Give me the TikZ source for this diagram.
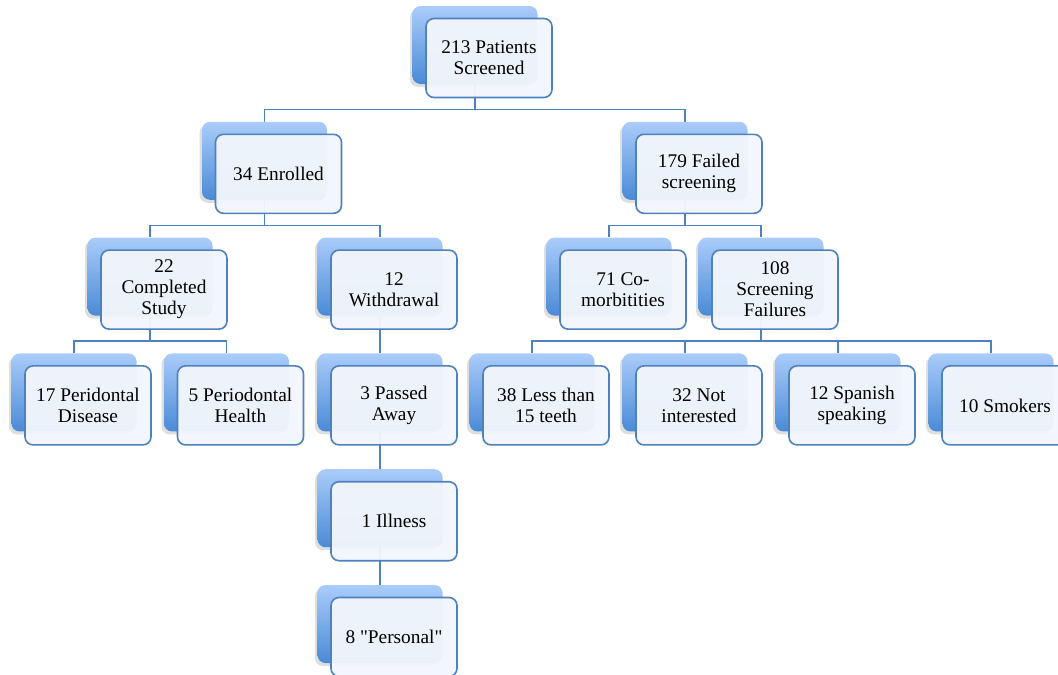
\documentclass[tikz,border=0pt]{standalone}
\usepackage{fontspec}
\setmainfont{Liberation Serif}[Ligatures=TeXOff]
\usetikzlibrary{positioning,calc}
\pgfdeclarelayer{bg}
\pgfsetlayers{bg,main}
\definecolor{linkblue}{RGB}{79,129,189}
\definecolor{tabtop}{RGB}{170,204,250}
\definecolor{tabbot}{RGB}{74,138,214}
\definecolor{cardfill}{RGB}{242,246,252}
\tikzset{
  tab/.style = {rounded corners=6pt, minimum width=93.75pt, minimum height=58.5pt,
                top color=tabtop, bottom color=tabbot, inner sep=0pt},
  tabshadow/.style = {rounded corners=6pt, minimum width=93.75pt, minimum height=58.5pt,
                fill=black, opacity=.13, inner sep=0pt},
  card/.style = {rounded corners=6pt, minimum width=94.5pt, minimum height=59.25pt,
                 draw=linkblue, line width=1.2pt, fill=cardfill, fill opacity=.96,
                 text opacity=1, align=center, inner sep=0pt,
                 font=\fontsize{14.5}{15.75}\selectfont},
  link/.style = {draw=linkblue, line width=1.2pt}
}
% back tab + front card; #1 name, #2 x, #3 y, #4 text
\newcommand{\flowbox}[4]{%
  \node[tabshadow] at (#2-2.5,#3+3) {};
  \node[tab] (#1) at (#2,#3) {};
  \node[card] (#1t) at (#2+14,#3+13) {#4};
}

\begin{document}
\begin{tikzpicture}[x = .75pt, y = -.75pt]
\useasboundingbox (0,0) rectangle (1058,675);
% level 0 and 1
\flowbox{scr}{475}{45}{213 Patients\\Screened}
\flowbox{enr}{264.5}{160.8}{34 Enrolled}
\flowbox{fail}{685}{160.8}{179 Failed\\screening}
% level 2
\flowbox{comp}{150}{276.6}{22\\Completed\\Study}
\flowbox{wdr}{380}{276.6}{12\\Withdrawal}
\flowbox{como}{609}{276.6}{71 Co-\\morbitities}
\flowbox{sfail}{761}{276.6}{108\\Screening\\Failures}
% level 3
\flowbox{pdis}{74}{392.4}{17 Peridontal\\Disease}
\flowbox{phea}{226.5}{392.4}{5 Periodontal\\Health}
\flowbox{pass}{380}{392.4}{3 Passed\\Away}
\flowbox{less}{532}{392.4}{38 Less than\\15 teeth}
\flowbox{noint}{685}{392.4}{32 Not\\interested}
\flowbox{span}{838}{392.4}{12 Spanish\\speaking}
\flowbox{smok}{991}{392.4}{10 Smokers}
% levels 4 and 5
\flowbox{ill}{380}{508.2}{1 Illness}
\flowbox{pers}{380}{624}{8 "Personal"}
% connectors
\begin{pgfonlayer}{bg}
\foreach \a/\b in {scr/enr, scr/fail, enr/comp, enr/wdr, fail/como, fail/sfail,
                   comp/pdis, comp/phea, sfail/less, sfail/noint, sfail/span, sfail/smok}
  \draw[link] (\a) |- ([yshift=9pt]\b.north) -- (\b);
\draw[link] (wdr) -- (pass) -- (ill) -- (pers);
\end{pgfonlayer}
\end{tikzpicture}
\end{document}
